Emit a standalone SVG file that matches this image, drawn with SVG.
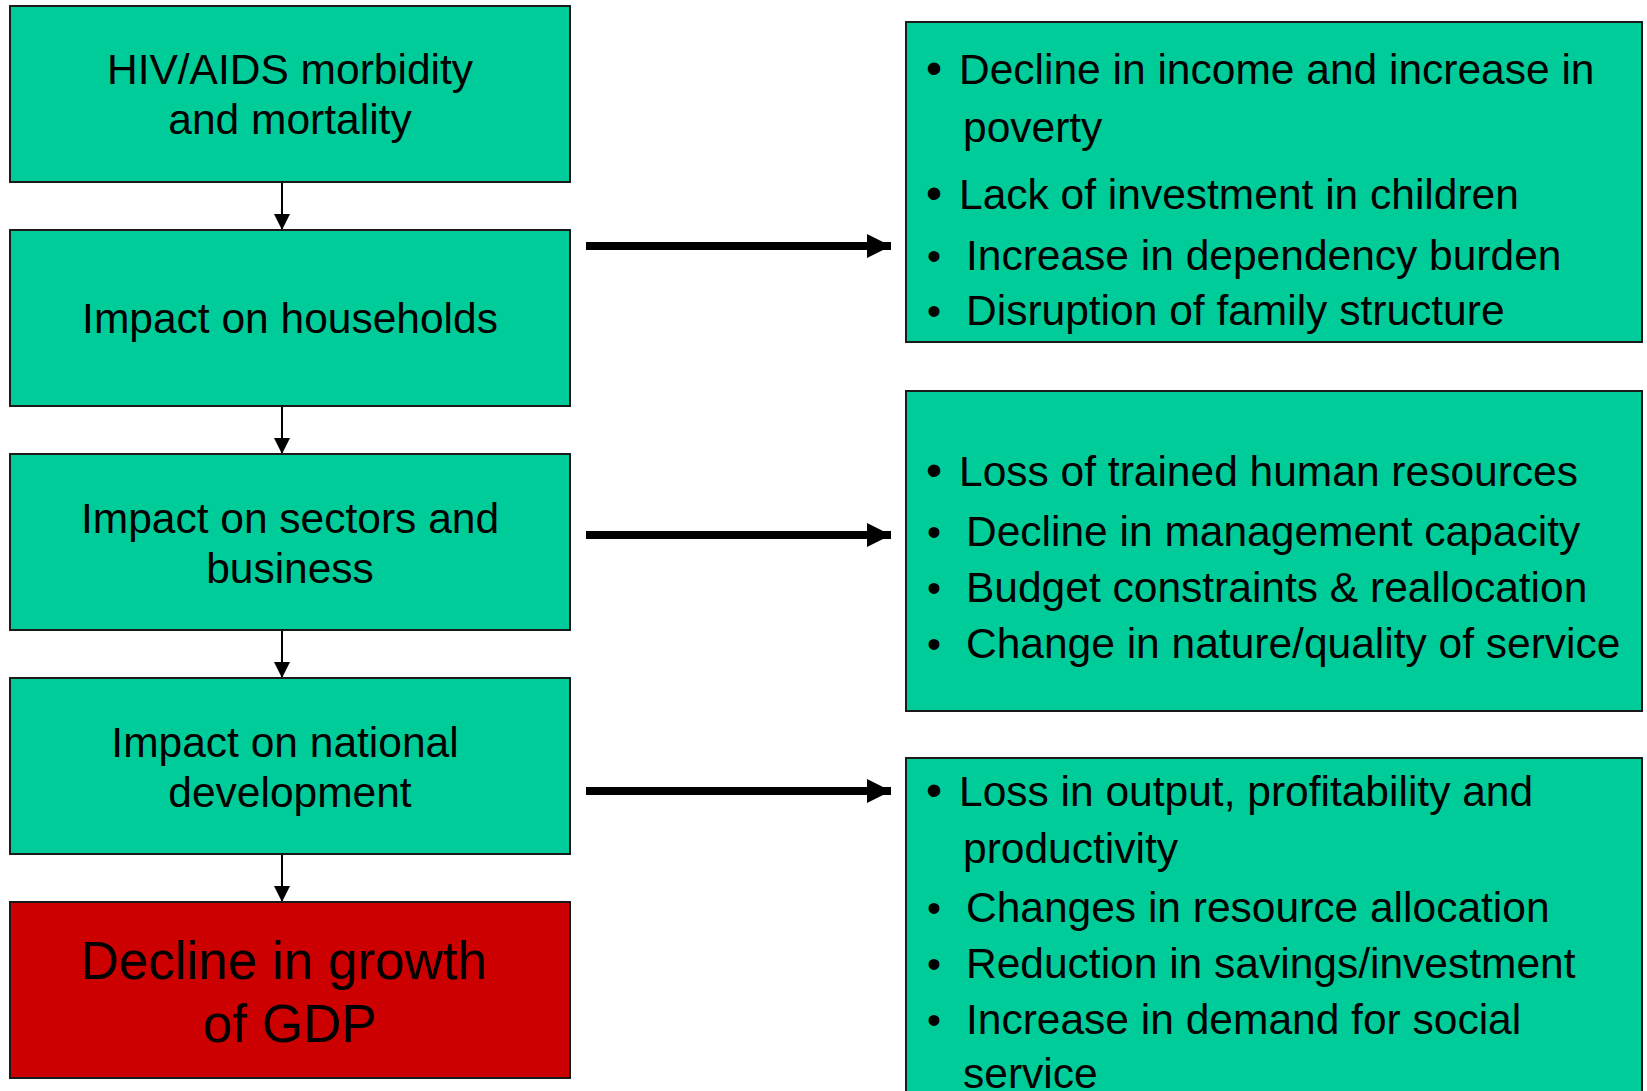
<svg xmlns="http://www.w3.org/2000/svg" width="1647" height="1091" viewBox="0 0 1647 1091">
  <defs>
    <marker id="headSmall" viewBox="0 0 16 16" refX="16" refY="8" markerWidth="16" markerHeight="16" markerUnits="userSpaceOnUse" orient="auto">
      <path d="M0,0 L16,8 L0,16 Z" fill="#000"/>
    </marker>
    <marker id="headBig" viewBox="0 0 24 24" refX="24" refY="12" markerWidth="24" markerHeight="24" markerUnits="userSpaceOnUse" orient="auto">
      <path d="M0,0 L24,12 L0,24 Z" fill="#000"/>
    </marker>
    <style>
      .box { fill: #00CC99; stroke: #1a1a1a; stroke-width: 2; }
      .red { fill: #CC0000; stroke: #1a1a1a; stroke-width: 2; }
      .lbl { font-family: "Liberation Sans", Arial, sans-serif; font-size: 42.5px; fill: #000; text-anchor: middle; }
      .big { font-family: "Liberation Sans", Arial, sans-serif; font-size: 53px; fill: #000; text-anchor: middle; }
      .item { font-family: "Liberation Sans", Arial, sans-serif; font-size: 42.5px; fill: #000; }
      .bl { font-family: "Liberation Sans", Arial, sans-serif; font-size: 46px; fill: #000; }
      .bs { font-family: "Liberation Sans", Arial, sans-serif; font-size: 40px; fill: #000; }
      .thin { stroke: #000; stroke-width: 2; fill: none; }
      .thick { stroke: #000; stroke-width: 8; fill: none; }
    </style>
  </defs>

  <rect width="1647" height="1091" fill="#fff"/>

  <!-- connectors -->
  <g id="connectors">
    <line class="thin" x1="282" y1="182" x2="282" y2="230" marker-end="url(#headSmall)"/>
    <line class="thin" x1="282" y1="406" x2="282" y2="454" marker-end="url(#headSmall)"/>
    <line class="thin" x1="282" y1="630" x2="282" y2="678" marker-end="url(#headSmall)"/>
    <line class="thin" x1="282" y1="854" x2="282" y2="902" marker-end="url(#headSmall)"/>
    <line class="thick" x1="586" y1="246" x2="891" y2="246" marker-end="url(#headBig)"/>
    <line class="thick" x1="586" y1="535" x2="891" y2="535" marker-end="url(#headBig)"/>
    <line class="thick" x1="586" y1="791" x2="891" y2="791" marker-end="url(#headBig)"/>
  </g>

  <!-- causal chain -->
  <g id="hiv">
    <rect class="box" x="10" y="6" width="560" height="176"/>
    <text class="lbl" x="290" y="84">HIV/AIDS morbidity</text>
    <text class="lbl" x="290" y="134">and mortality</text>
  </g>
  <g id="households">
    <rect class="box" x="10" y="230" width="560" height="176"/>
    <text class="lbl" x="290" y="333">Impact on households</text>
  </g>
  <g id="sectors">
    <rect class="box" x="10" y="454" width="560" height="176"/>
    <text class="lbl" x="290" y="533">Impact on sectors and</text>
    <text class="lbl" x="290" y="583">business</text>
  </g>
  <g id="national">
    <rect class="box" x="10" y="678" width="560" height="176"/>
    <text class="lbl" x="285" y="757">Impact on national</text>
    <text class="lbl" x="290" y="807">development</text>
  </g>
  <g id="gdp">
    <rect class="red" x="10" y="902" width="560" height="176"/>
    <text class="big" x="284" y="979">Decline in growth</text>
    <text class="big" x="290" y="1042">of GDP</text>
  </g>

  <!-- household effects -->
  <g id="household-effects">
    <rect class="box" x="906" y="22" width="736" height="320"/>
    <text class="bl" x="926" y="84">•</text>
    <text class="item" x="959" y="84">Decline in income and increase in</text>
    <text class="item" x="963" y="142">poverty</text>
    <text class="bl" x="926" y="209">•</text>
    <text class="item" x="959" y="209">Lack of investment in children</text>
    <text class="bs" x="927" y="270">•</text>
    <text class="item" x="966" y="270">Increase in dependency burden</text>
    <text class="bs" x="927" y="325">•</text>
    <text class="item" x="966" y="325">Disruption of family structure</text>
  </g>

  <!-- sector effects -->
  <g id="sector-effects">
    <rect class="box" x="906" y="391" width="736" height="320"/>
    <text class="bl" x="926" y="486">•</text>
    <text class="item" x="959" y="486">Loss of trained human resources</text>
    <text class="bs" x="927" y="546">•</text>
    <text class="item" x="966" y="546">Decline in management capacity</text>
    <text class="bs" x="927" y="602">•</text>
    <text class="item" x="966" y="602">Budget constraints &amp; reallocation</text>
    <text class="bs" x="927" y="658">•</text>
    <text class="item" x="966" y="658">Change in nature/quality of service</text>
  </g>

  <!-- national effects -->
  <g id="national-effects">
    <rect class="box" x="906" y="758" width="736" height="360"/>
    <text class="bl" x="926" y="806">•</text>
    <text class="item" x="959" y="806">Loss in output, profitability and</text>
    <text class="item" x="963" y="863">productivity</text>
    <text class="bs" x="927" y="922">•</text>
    <text class="item" x="966" y="922">Changes in resource allocation</text>
    <text class="bs" x="927" y="978">•</text>
    <text class="item" x="966" y="978">Reduction in savings/investment</text>
    <text class="bs" x="927" y="1034">•</text>
    <text class="item" x="966" y="1034">Increase in demand for social</text>
    <text class="item" x="963" y="1088">service</text>
  </g>
</svg>
